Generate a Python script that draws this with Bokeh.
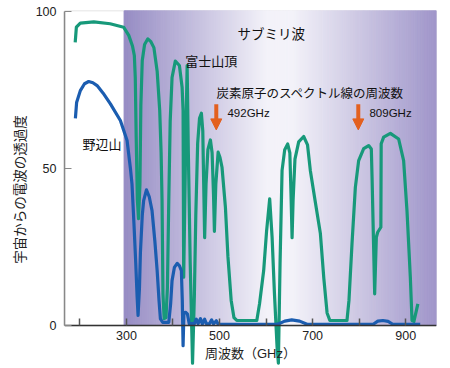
from bokeh.plotting import figure
from bokeh.models import Range1d, FixedTicker, Arrow, NormalHead, Label, BoxAnnotation
from bokeh.embed import file_html
from bokeh.resources import INLINE
import numpy as np

# ---------------- data ----------------
fuji_freq = [190, 192.5, 201, 230, 265, 294, 305, 313, 317, 319, 321, 323.5, 326, 329, 331, 334,
             339, 346, 352, 359, 366, 371.5, 374.5, 376.5, 378.5, 381, 385, 388, 391, 394, 398,
             405, 413.8, 419.6, 421.7, 423, 427, 430.4, 433, 437, 442, 446, 449, 453, 457, 461,
             464, 466, 468, 471, 475, 480.4, 484, 487, 489, 492, 497, 501, 505.3, 512.6, 518, 525,
             531, 537, 580, 586, 594.8, 601, 607.7, 612.9, 618, 623.6, 626.4, 630, 634.3, 640,
             646.4, 651, 653.5, 655.8, 658, 662, 670, 680.7, 689, 695, 705, 716.6, 724, 731, 737,
             773.7, 778, 784.5, 791.7, 798.8, 809.6, 820.3, 826, 827.6, 830.5, 833.2, 836.8,
             839.7, 846.5, 847.2, 852.5, 866.9, 884.7, 895.4, 902.6, 909.8, 913.4, 917.5, 926]
fuji_trans = [90.2, 95.0, 96.3, 96.7, 96.1, 95.0, 92.4, 89, 86, 79, 60, 40, 34, 45, 70, 84.4,
              89.5, 91.3, 90.5, 88.5, 81, 68.5, 55, 40, 10, 2.2, 2.5, 12, 40, 65, 79,
              84.2, 82.8, 75.9, 68.5, 15.4, 55, 82.8, 55, 20, -12, 10, 35, 58, 66, 67.6,
              62, 45, 28, 45, 56, 59.1, 55, 42, 30, 45, 55.2, 53.5, 50.4, 37.7, 22, 8,
              2.5, 1.6, 1.6, 7, 17.5, 30, 40.3, 28.1, 10, -6.9, -12, 20, 49.4, 56,
              57.8, 55, 42, 28, 40, 53, 58.5, 60.2, 57.5, 49.4, 40, 29.3, 15, 4, 1.6,
              1.6, 8, 26, 44, 52.5, 56.3, 57.3, 56.2, 47.2, 28, 10.1, 28.1,
              29.7, 31.3, 57.9, 60, 61.2, 59.4, 52.5, 36.6, 15.4, 1.6, 1.3, 6.9]

nobe_freq = [190.4, 193, 201, 210, 219, 228, 237, 250, 265.6, 287, 301.4, 308.6, 312, 316, 320,
             323, 325, 328, 330, 334, 337, 343, 349, 355, 361, 366, 370, 373, 378, 391, 395,
             398, 403, 409, 414, 418, 420, 421.7, 423.5, 427, 431, 435, 440, 446, 450, 454,
             459, 463, 468, 472, 478, 483, 487, 493, 497, 625, 640, 655, 672, 688, 830, 840,
             851, 862, 872, 931]
nobe_trans = [66, 71, 74.8, 77, 77.7, 77.3, 76.4, 74, 70.6, 65.3, 58.9, 50, 45, 33, 20,
              9, 3.2, 12, 23, 35, 39.8, 43.2, 41, 36.6, 27, 17.5, 8, 2.1, 1, 1, 7,
              14.3, 18.5, 19.8, 19, 17.5, 8, -6.4, 4, 4.2, 3.7, 0.5, 0.6, 0.6, 2, 0.6,
              2.2, 0.5, 2, 0.5, 0.5, 1.8, 0.5, 1.5, 0.4, 0.4, 1.4, 1.8, 1.4, 0.4, 0.4, 1.4,
              1.6, 1.3, 0.4, 0.4]

x_ticks = [200, 300, 400, 500, 600, 700, 800, 900]
x_tick_labels = ["", "300", "", "500", "", "700", "", "900"]
y_ticks = [0, 50, 100]

carbon_freq_labels = ["492GHz", "809GHz"]
carbon_arrow_x = [493, 798]
submm_start = 295
submm_end = 966

# ---------------- styles ----------------
GREEN = "#17997a"
BLUE = "#1b5db0"
ORANGE = "#e3601f"
JP = "Noto Sans CJK JP"
LAT = "Liberation Sans"
MIX = "Liberation Sans, Noto Sans CJK JP"

p = figure(width=450, height=368, x_range=Range1d(167, 966), y_range=Range1d(-13.69, 100.32),
           output_backend="svg", toolbar_location=None,
           min_border_left=64, min_border_right=14, min_border_top=10, min_border_bottom=0)
p.grid.visible = False
p.outline_line_color = None
p.background_fill_color = "white"
p.border_fill_color = "white"

# background gradient (sub-mm band)
edges = np.linspace(submm_start, submm_end, 225)
mids = (edges[:-1] + edges[1:]) / 2
stop_x = [submm_start, 600, 660, submm_end]
stop_r = [150, 243, 243, 160]
stop_g = [140, 242, 242, 150]
stop_b = [196, 249, 249, 202]
r = np.interp(mids, stop_x, stop_r)
g = np.interp(mids, stop_x, stop_g)
b = np.interp(mids, stop_x, stop_b)
cols = ["#%02x%02x%02x" % (int(a), int(c), int(d)) for a, c, d in zip(r, g, b)]
p.quad(left=edges[:-1], right=edges[1:], bottom=0, top=p.y_range.end,
       fill_color=cols, line_color=cols, line_width=1)

# frame border above the axis
p.add_layout(BoxAnnotation(bottom=0, fill_color=None, fill_alpha=0,
                           line_color="#888888", line_width=1.5, level="underlay"))

# curves
p.line(fuji_freq, fuji_trans, line_color=GREEN, line_width=3.2, line_join="round")
p.line(nobe_freq, nobe_trans, line_color=BLUE, line_width=3.2, line_join="round")

# x axis
xa = p.xaxis[0]
xa.fixed_location = 0
xa.ticker = FixedTicker(ticks=x_ticks)
xa.major_label_overrides = {t: l for t, l in zip(x_ticks, x_tick_labels)}
xa.major_tick_in = 7
xa.major_tick_out = 0
xa.minor_tick_line_color = None
xa.axis_line_color = "#333333"
xa.axis_line_width = 1.5
xa.major_tick_line_color = "#555555"
xa.major_tick_line_width = 1.5
xa.major_label_standoff = 5
xa.major_label_text_font = LAT
xa.major_label_text_font_size = "12.5px"
xa.major_label_text_color = "#222222"
xa.axis_label = "周波数（GHz）"
xa.axis_label_standoff = 3
xa.axis_label_text_font = MIX
xa.axis_label_text_font_style = "normal"
xa.axis_label_text_font_size = "13px"
xa.axis_label_text_color = "#222222"

# y axis
ya = p.yaxis[0]
ya.bounds = (0, 100)
ya.ticker = FixedTicker(ticks=y_ticks)
ya.major_tick_in = 7
ya.major_tick_out = 0
ya.minor_tick_line_color = None
ya.axis_line_color = "#888888"
ya.axis_line_width = 1.5
ya.major_tick_line_color = "#888888"
ya.major_label_standoff = 8
ya.major_label_text_font = LAT
ya.major_label_text_font_size = "12.5px"
ya.major_label_text_color = "#222222"
ya.axis_label = "宇宙からの電波の透過度"
ya.axis_label_standoff = 4
ya.axis_label_text_font = JP
ya.axis_label_text_font_style = "normal"
ya.axis_label_text_font_size = "13.5px"
ya.axis_label_text_color = "#222222"

# texts
def lab(x, y, text, size, font=JP, align="left"):
    p.add_layout(Label(x=x, y=y, text=text, text_font=font, text_font_size=size,
                       text_color="#111111", text_align=align, text_baseline="middle"))

lab(611, 93.3, "サブミリ波", "13.5px", align="center")
lab(426.5, 84.4, "富士山頂", "13px")
lab(493.3, 74.2, "炭素原子のスペクトル線の周波数", "12.5px")
lab(247.4, 58, "野辺山", "13px", align="center")
lab(517, 67.8, carbon_freq_labels[0], "11.5px", font=LAT)
lab(822, 67.8, carbon_freq_labels[1], "11.5px", font=LAT)

for ax_ in carbon_arrow_x:
    p.add_layout(Arrow(end=NormalHead(size=11, fill_color=ORANGE, line_color=ORANGE, line_width=1),
                       x_start=ax_, y_start=70.5, x_end=ax_, y_end=62.3,
                       line_color=ORANGE, line_width=4))

open("out.html", "w").write(file_html(p, INLINE))
